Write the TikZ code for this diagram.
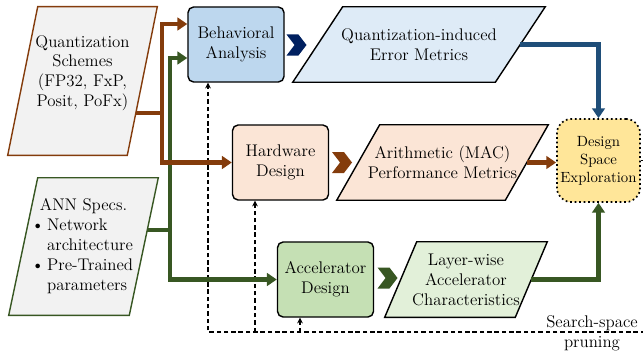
\documentclass[tikz,border=0pt]{standalone}
\usepackage{tikz}
\usepackage{xcolor}
\definecolor{qsBrown}{HTML}{843C0C}
\definecolor{annGreen}{HTML}{385723}
\definecolor{errBlue}{HTML}{1F4E79}
\definecolor{chevNavy}{HTML}{002060}
\definecolor{inGray}{HTML}{F2F2F2}
\definecolor{baFill}{HTML}{BDD7EE}
\definecolor{qeFill}{HTML}{DEEBF7}
\definecolor{hwFill}{HTML}{FBE5D6}
\definecolor{acFill}{HTML}{C5E0B4}
\definecolor{lwFill}{HTML}{E2F0D9}
\definecolor{dseFill}{HTML}{FFE699}
\usetikzlibrary{arrows.meta,shapes.symbols}

\pgfdeclarelayer{background}
\pgfsetlayers{background,main}

\tikzset{
  txt/.style={font=\fontsize{12}{14.2}\selectfont, align=center, inner sep=0pt},
  block/.style={txt, rectangle, rounded corners=4pt, draw, line width=1pt, minimum width=2.4cm, minimum height=1.875cm},
  databox/.style={txt, rectangle, minimum height=1.875cm},
  chev/.style={signal, signal from=west, signal to=east, signal pointer angle=105, draw=none, inner sep=0pt, minimum width=0.5cm, minimum height=0.525cm},
  flow/.style={line width=3.5pt, -{Triangle[length=7pt,width=9pt]}},
  prune/.style={dash pattern=on 3.2pt off 2pt, line width=0.9pt, -{Stealth[length=4pt,width=4pt]}},
}

\begin{document}
\begin{tikzpicture}[x=0.025cm, y=-0.025cm]
  \useasboundingbox (0,0) rectangle (643,356);

  % inputs, blocks and metrics
  \node[databox, minimum width=2.975cm, minimum height=3.7cm] (qs) at (82.5,81) {Quantization\\Schemes\\(FP32, FxP,\\Posit, PoFx)\\[0pt]\mbox{}};
  \node[databox, minimum width=3cm, minimum height=3.425cm] (ann) at (83.5,246.5) {\begin{tabular}{@{}l@{\,}l@{}}\multicolumn{2}{c}{ANN Specs.}\\ \textbullet & Network\\ & architecture\\ \textbullet & Pre-Trained\\ & parameters\end{tabular}};
  \node[block, fill=baFill] (ba) at (236,44.5) {Behavioral\\Analysis};
  \node[block, fill=hwFill] (hd) at (280.5,162.5) {Hardware\\Design};
  \node[block, fill=acFill] (ad) at (325.5,279.5) {Accelerator\\Design};
  \node[databox, minimum width=5.05cm] (qe) at (419,44.5) {Quantization-induced\\Error Metrics};
  \node[databox, minimum width=4.2cm] (am) at (442.5,162.5) {Arithmetic (MAC)\\Performance Metrics};
  \node[databox, minimum width=3.25cm] (lw) at (466,279.5) {Layer-wise\\Accelerator\\Characteristics};
  \node[txt, font=\fontsize{10.5}{12.8}\selectfont, draw, dotted, line width=1.2pt, rounded corners=0.35cm, fill=dseFill, minimum size=2.075cm] (dse) at (598.5,160.5) {Design\\Space\\Exploration};

  \node[chev, fill=chevNavy] (ch1) at (296.5,45) {};
  \node[chev, fill=qsBrown] (ch2) at (342,162.5) {};
  \node[chev, fill=annGreen] (ch3) at (387.5,278) {};

  \begin{pgfonlayer}{background}
    \foreach \n/\s/\c/\f in {qs/30/qsBrown/inGray, ann/29/annGreen/inGray, qe/50/black/qeFill, am/43/black/hwFill, lw/32/black/lwFill}
      \filldraw[draw=\c, fill=\f, line width=1pt] ([shift={(-\s/2,0)}]\n.south west) -- ([shift={(\s/2,0)}]\n.north west) -- ([shift={(\s/2,0)}]\n.north east) -- ([shift={(-\s/2,0)}]\n.south east) -- cycle;
  \end{pgfonlayer}

  % search-space pruning feedback
  \coordinate (pr0) at (645,160.5);
  \coordinate (pr1) at (645,332);
  \coordinate (hdin) at ([shift={(-25.5,0)}]hd.south);
  \coordinate (adin) at ([shift={(-25.5,0)}]ad.south);
  \draw[prune] (dse.east) -- (pr0) -- (pr1) -| ([shift={(-28,0)}]ba.south);
  \draw[prune] (hdin |- pr1) -- (hdin);
  \draw[prune] (adin |- pr1) -- (adin);
  \node[txt] (prlbl) at (592,333.7) {Search-space\\pruning};

  % data flow
  \coordinate (annj) at (170,230);
  \coordinate (qsj) at (162,113);
  \draw[flow, annGreen] ([shift={(3,-16.5)}]ann.east) -- (annj) |- ([shift={(0,13.5)}]ba.west);
  \draw[flow, annGreen] (annj) |- (ad.west);
  \draw[flow, qsBrown] ([shift={(-6.5,32)}]qs.east) -- (qsj) |- ([shift={(0,-20.5)}]ba.west);
  \draw[flow, qsBrown] (qsj) |- (hd.west);
  \draw[flow, errBlue] (qe.east) -| (dse.north);
  \draw[flow, qsBrown] (am.east) -- (am.east -| dse.west);
  \draw[flow, annGreen] (lw.east) -| (dse.south);
\end{tikzpicture}
\end{document}
